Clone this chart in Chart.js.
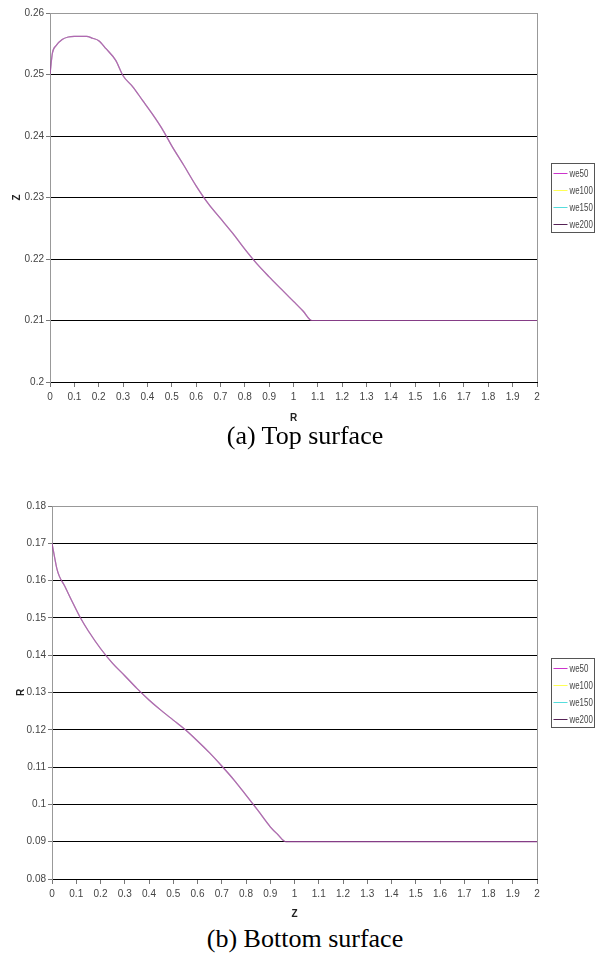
<!DOCTYPE html>
<html>
<head>
<meta charset="utf-8">
<title>Free surface profiles</title>
<script src="https://cdn.jsdelivr.net/npm/chart.js@4.4.1/dist/chart.umd.min.js"></script>
<style>
  html, body { margin: 0; padding: 0; background: #fff; }
  body { width: 600px; height: 956px; position: relative; overflow: hidden; }
  canvas { position: absolute; left: 0; }
  .cap {
    position: absolute; left: 0; width: 600px; box-sizing: border-box;
    padding-left: 10px; text-align: center; color: #000;
    font-family: "Liberation Serif", "Times New Roman", serif;
    font-size: 26px; line-height: 30px;
  }
</style>
</head>
<body>
<canvas id="topChart" width="600" height="424" style="top:0"></canvas>
<div class="cap" style="top:421px">(a) Top surface</div>
<canvas id="bottomChart" width="600" height="430" style="top:490px"></canvas>
<div class="cap" style="top:924px">(b) Bottom surface</div>

<script>
// Series names, legend colours and the (translucent) stroke colours of the overlapping runs
const seriesNames = ['we50', 'we100', 'we150', 'we200'];
const legendColors = ['#cc33cc', '#ffff55', '#55dddd', '#552255'];
const strokeColors = ['rgba(204,51,204,0.45)', 'rgba(255,255,85,0.10)', 'rgba(85,221,221,0.15)', 'rgba(85,34,85,0.60)'];

// Top surface: height Z against radius R (all four runs coincide)
const topR = [0, 0.01, 0.025, 0.05, 0.075, 0.1, 0.125, 0.15, 0.175, 0.2, 0.23, 0.27, 0.3,
              0.34, 0.38, 0.42, 0.46, 0.5, 0.55, 0.6, 0.65, 0.7, 0.75, 0.8, 0.85, 0.9,
              0.95, 1.0, 1.04, 1.075, 1.2, 1.4, 1.6, 1.8, 2.0];
const topZ = [0.25, 0.2535, 0.2547, 0.2557, 0.2561, 0.2562, 0.2562, 0.2562, 0.2559, 0.2555,
              0.2542, 0.2523, 0.2498, 0.2480, 0.2458, 0.2436, 0.2412, 0.2384, 0.2352, 0.2319,
              0.2290, 0.2266, 0.2242, 0.2216, 0.2192, 0.2171, 0.2151, 0.2131, 0.2115, 0.2100,
              0.21, 0.21, 0.21, 0.21, 0.21];

// Bottom surface: radius R against axial position Z
const bottomZ = [0, 0.01, 0.02, 0.03, 0.05, 0.08, 0.1, 0.12, 0.15, 0.2, 0.25, 0.3, 0.35, 0.4,
                 0.45, 0.5, 0.55, 0.6, 0.65, 0.7, 0.75, 0.8, 0.85, 0.9, 0.93, 0.965,
                 1.2, 1.4, 1.6, 1.8, 2.0];
const bottomR = [0.17, 0.1665, 0.1632, 0.1612, 0.1588, 0.1548, 0.1522, 0.1497, 0.1465, 0.1418,
                 0.1378, 0.1345, 0.1311, 0.1280, 0.1252, 0.1226, 0.1200, 0.1170, 0.1138, 0.1103,
                 0.1066, 0.1025, 0.0983, 0.0940, 0.0920, 0.0900,
                 0.09, 0.09, 0.09, 0.09, 0.09];

// Axis ranges and tick steps
const xRange = [0, 2], xStep = 0.1;
const topYRange = [0.2, 0.26], bottomYRange = [0.08, 0.18], yStep = 0.01;

const tickFont = { family: '"Liberation Sans", Arial, sans-serif', size: 10 };
const titleFont = { family: '"Liberation Sans", Arial, sans-serif', size: 10, weight: 'bold' };

// Boxed legend to the right of the plot area, with narrow lettering
const boxLegend = {
  id: 'boxLegend',
  afterDraw(chart) {
    const { ctx, chartArea } = chart;
    const sets = chart.data.datasets;
    const rowH = 17, w = 43, h = sets.length * rowH + 1;
    const x0 = Math.round(chartArea.right + 14) + 0.5;
    const y0 = Math.round((chartArea.top + chartArea.bottom) / 2 - h / 2) + 0.5;
    ctx.save();
    ctx.fillStyle = '#fff';
    ctx.fillRect(x0, y0, w, h);
    ctx.strokeStyle = '#555';
    ctx.lineWidth = 1;
    ctx.strokeRect(x0, y0, w, h);
    sets.forEach((ds, i) => {
      const y = Math.round(y0 + 9 + rowH * i) + 0.5;
      ctx.strokeStyle = ds.legendColor;
      ctx.beginPath();
      ctx.moveTo(x0 + 2, y);
      ctx.lineTo(x0 + 16, y);
      ctx.stroke();
      ctx.save();
      ctx.translate(x0 + 18, y + 0.5);
      ctx.scale(0.72, 1);
      ctx.font = '11px "Liberation Sans", Arial, sans-serif';
      ctx.textBaseline = 'middle';
      ctx.fillStyle = '#444';
      ctx.fillText(ds.label, 0, 0);
      ctx.restore();
    });
    ctx.restore();
  }
};

const fmt = v => String(+Number(v).toFixed(3));

function makeDatasets(xs, ys) {
  return seriesNames.map((name, i) => ({
    label: name,
    data: xs.map((x, k) => ({ x: x, y: ys[k] })),
    borderColor: strokeColors[i],
    legendColor: legendColors[i],
    borderWidth: 1.2,
    pointRadius: 0,
    fill: false,
    cubicInterpolationMode: 'monotone'
  }));
}

function makeChart(id, xs, ys, yRange, xTitle, yTitle, padTop, axisW, xAxisH, yTitlePad) {
  return new Chart(document.getElementById(id), {
    type: 'line',
    data: { datasets: makeDatasets(xs, ys) },
    plugins: [boxLegend],
    options: {
      responsive: false,
      animation: false,
      events: [],
      layout: { padding: { top: padTop, right: 63, left: 0, bottom: 0 } },
      plugins: { legend: { display: false }, tooltip: { enabled: false } },
      scales: {
        x: {
          type: 'linear', min: xRange[0], max: xRange[1],
          afterFit: s => { s.height = xAxisH; },
          border: { color: '#000', width: 1 },
          grid: {
            drawOnChartArea: true,
            color: c => (c.tick && Math.abs(c.tick.value - xRange[1]) < 1e-9) ? '#999' : 'rgba(0,0,0,0)',
            tickColor: '#777', tickLength: 5
          },
          ticks: {
            stepSize: xStep, autoSkip: false, maxRotation: 0, minRotation: 0,
            padding: 4, color: '#444', font: tickFont, callback: fmt
          },
          title: { display: true, text: xTitle, color: '#222', font: titleFont, padding: { top: 0, bottom: 0 } }
        },
        y: {
          type: 'linear', min: yRange[0], max: yRange[1],
          afterFit: s => { s.width = axisW; },
          border: { color: '#999', width: 1 },
          grid: {
            color: c => (c.tick && Math.abs(c.tick.value - yRange[1]) < 1e-9) ? '#999' : '#000',
            tickColor: '#777', tickLength: 4
          },
          ticks: { stepSize: yStep, padding: 2, color: '#444', font: tickFont, callback: fmt },
          title: { display: true, text: yTitle, color: '#222', font: titleFont, padding: { top: yTitlePad, bottom: 0 } }
        }
      }
    }
  });
}

makeChart('topChart', topR, topZ, topYRange, 'R', 'Z', 13, 50, 42, 11);
makeChart('bottomChart', bottomZ, bottomR, bottomYRange, 'Z', 'R', 16, 52, 41, 15);
</script>
</body>
</html>
